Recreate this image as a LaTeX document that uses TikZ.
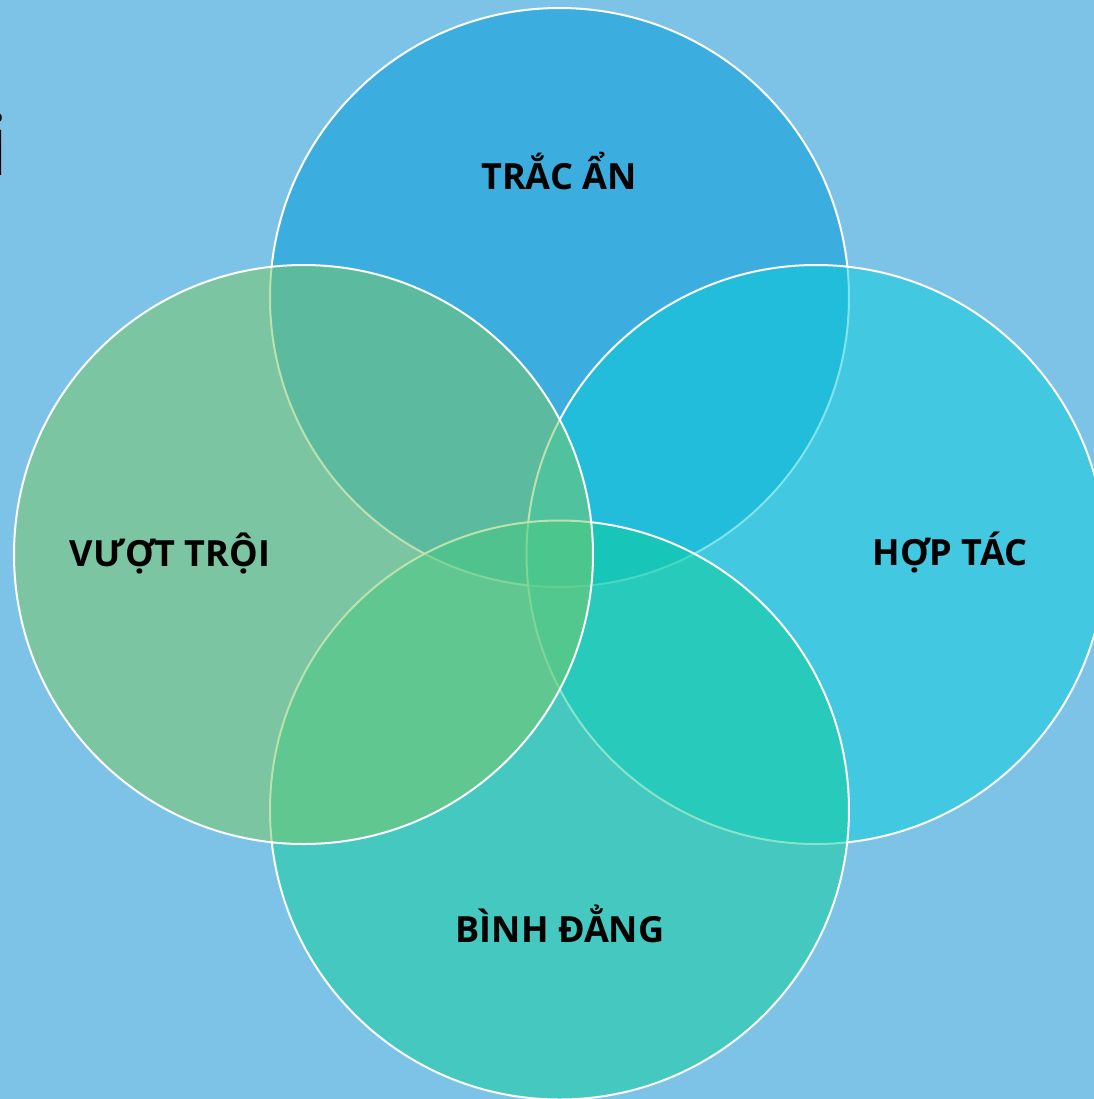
\documentclass[tikz,border=0pt]{standalone}
\usepackage{fontspec}
\setmainfont{Open Sans}
\definecolor{bgblue}{RGB}{125,195,232}
\definecolor{ctop}{RGB}{59,173,223}
\definecolor{cright}{RGB}{12,205,217}
\definecolor{cbottom}{RGB}{13,205,152}
\definecolor{cleft}{RGB}{123,199,101}
\tikzset{
  venn/.style={draw=white, line width=0.02cm},
  lbl/.style={font=\fontsize{10.25pt}{12pt}\selectfont\bfseries, text=black, anchor=base, inner sep=0pt},
}
\begin{document}
\begin{tikzpicture}[x=0.01cm,y=-0.01cm]
\useasboundingbox (0,0) rectangle (1094,1099);
\clip (0,0) rectangle (1094,1099);
\fill[bgblue] (0,0) rectangle (1094,1099);
\node[font=\fontsize{24pt}{28pt}\selectfont, anchor=base east, inner sep=0pt] (ifrag) at (10,175) {i};
\path[venn, fill=ctop] (559.5,297.5) circle[radius=289.5];
\path[venn, fill=cright, fill opacity=0.52] (816,554.5) circle[radius=289.5];
\path[venn, fill=cbottom, fill opacity=0.5] (559.5,810) circle[radius=289.5];
\path[venn, fill=cleft, fill opacity=0.52] (303.5,554.5) circle[radius=289.5];
\node[lbl] (trac) at (559,189) {TRẮC ẨN};
\node[lbl] (vuot) at (170,566) {VƯỢT TRỘI};
\node[lbl] (hop) at (950,565) {HỢP TÁC};
\node[lbl] (binh) at (560,942) {BÌNH ĐẲNG};
\end{tikzpicture}
\end{document}
